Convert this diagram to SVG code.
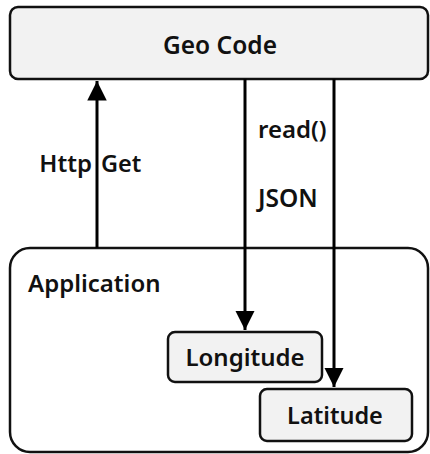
<svg xmlns="http://www.w3.org/2000/svg" width="430" height="454" viewBox="0 0 430 454">
<style>
.box{fill:#f2f2f2;stroke:#111;stroke-width:2.5}
.app{fill:#fff;stroke:#111;stroke-width:2.5}
.t{font-family:"Noto Sans","DejaVu Sans",sans-serif;font-weight:600;fill:#111}
.c{stroke:#000;stroke-width:3;fill:none}
</style>
<defs>
<marker id="ah" viewBox="0 0 10 10" refX="10" refY="5" markerWidth="6.5" markerHeight="6.5" markerUnits="strokeWidth" orient="auto"><path d="M0,0 L10,5 L0,10 z" fill="#000"/></marker>
</defs>
<rect width="430" height="454" fill="#fff"/>
<g id="geocode">
<rect class="box" x="10" y="7" width="418" height="72" rx="8"/>
<text class="t" x="220" y="54" font-size="24.5" text-anchor="middle">Geo Code</text>
</g>
<g id="application">
<rect class="app" x="10" y="248" width="418" height="204" rx="20"/>
<text class="t" x="28" y="292" font-size="24">Application</text>
</g>
<g id="longitude">
<rect class="box" x="168" y="332" width="154" height="50" rx="7"/>
<text class="t" x="245" y="366" font-size="24" text-anchor="middle">Longitude</text>
</g>
<g id="latitude">
<rect class="box" x="260" y="389" width="152" height="52" rx="7"/>
<text class="t" x="335" y="424" font-size="23.5" text-anchor="middle">Latitude</text>
</g>
<g id="connectors">
<line class="c" x1="97" y1="248" x2="97" y2="81" marker-end="url(#ah)"/>
<line class="c" x1="245" y1="79" x2="245" y2="330" marker-end="url(#ah)"/>
<line class="c" x1="334" y1="79" x2="334" y2="387" marker-end="url(#ah)"/>
<text class="t" x="92" y="172" font-size="24" text-anchor="end">Http</text>
<text class="t" x="101" y="172" font-size="23.5">Get</text>
<text class="t" x="258" y="138" font-size="24">read()</text>
<text class="t" x="258" y="207" font-size="24.5">JSON</text>
</g>
</svg>
